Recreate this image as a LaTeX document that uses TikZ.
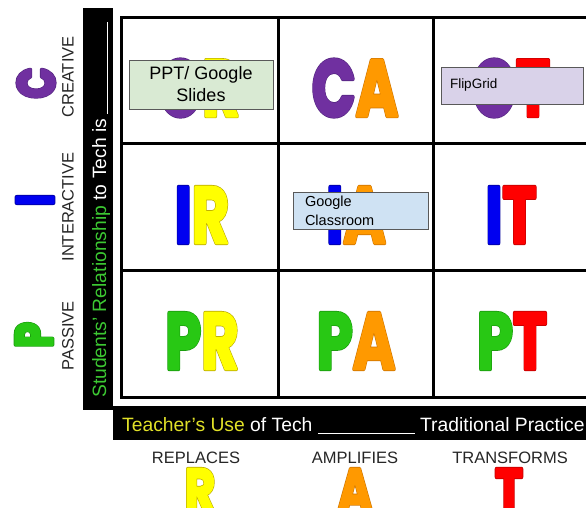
\documentclass[tikz,border=0pt]{standalone}
\usepackage{fontspec}
\setmainfont{Liberation Sans}
\newfontfamily\heavyfont{Poppins}
\definecolor{purC}{RGB}{112,48,160}
\definecolor{oraA}{RGB}{255,153,0}
\definecolor{yelR}{RGB}{255,255,0}
\definecolor{bluI}{RGB}{0,0,240}
\definecolor{redT}{RGB}{255,0,0}
\definecolor{grnP}{RGB}{40,200,20}
\definecolor{stuG}{RGB}{60,200,50}
\definecolor{teaY}{RGB}{225,225,40}
\definecolor{slideFill}{RGB}{217,234,211}
\definecolor{flipFill}{RGB}{217,210,233}
\definecolor{roomFill}{RGB}{207,226,243}
% heavy letter: dark rim under, filled letter with wide stroke on top
\newcommand\olet[3]{\makebox[0pt][l]{\color{#1}\special{pdf:literal direct 1 Tr 4 w 1 j #2 RG}#3\special{pdf:literal direct 0 Tr}}{\color{#1}\special{pdf:literal direct 2 Tr 2.6 w 1 j}#3\special{pdf:literal direct 0 Tr}}}
\tikzset{
  gridline/.style={line width=3pt},
  cellltr/.style={inner sep=0pt, font=\heavyfont\bfseries\fontsize{80}{80}\selectfont},
  sideltr/.style={inner sep=0pt, rotate=90, font=\heavyfont\bfseries\fontsize{52}{52}\selectfont},
  footltr/.style={inner sep=0pt, anchor=base, font=\heavyfont\bfseries\fontsize{60}{60}\selectfont},
  sidelab/.style={inner sep=0pt, rotate=90, text=black!85, font=\fontsize{16.5}{18}\selectfont},
  footlab/.style={inner sep=0pt, anchor=base, text=black!85, font=\fontsize{16.5}{18}\selectfont},
  barlab/.style={inner sep=0pt, text=white, font=\fontsize{19.3}{21}\selectfont},
  notebox/.style={draw=black!65, line width=0.8pt, inner ysep=0pt}
}
\def\purO{0.33 0.15 0.5}
\def\oraO{0.8 0.45 0}
\def\yelO{0.72 0.66 0}
\def\bluO{0 0 0.6}
\def\redO{0.75 0 0}
\def\grnO{0.1 0.6 0.05}

\begin{document}
\begin{tikzpicture}[x=1pt,y=-1pt]
\useasboundingbox (0,0) rectangle (586,507);
\fill [black] (83,8) rectangle (113,410);
\fill [black] (113,406) rectangle (592,440);
\draw [gridline] (121,17) rectangle (592,397);
\draw [gridline] (278,17) -- (278,397);
\draw [gridline] (433,17) -- (433,397);
\draw [gridline] (121,143) -- (592,143);
\draw [gridline] (121,270) -- (592,270);
\node [cellltr] (cr) at (199,88) {\scalebox{0.72}[1]{\olet{purC}{\purO}{C}\olet{yelR}{\yelO}{R}}};
\node [cellltr] (ca) at (355,88) {\scalebox{0.72}[1]{\olet{purC}{\purO}{C}\olet{oraA}{\oraO}{A}}};
\node [cellltr] (ct) at (511,88) {\scalebox{0.72}[1]{\olet{purC}{\purO}{C}\olet{redT}{\redO}{T}}};
\node [cellltr] (ir) at (202,215) {\scalebox{0.72}[1]{\olet{bluI}{\bluO}{I}\olet{yelR}{\yelO}{R}}};
\node [cellltr] (ia) at (356,215) {\scalebox{0.72}[1]{\olet{bluI}{\bluO}{I}\olet{oraA}{\oraO}{A}}};
\node [cellltr] (it) at (511,215) {\scalebox{0.72}[1]{\olet{bluI}{\bluO}{I}\olet{redT}{\redO}{T}}};
\node [cellltr] (pr) at (202,341) {\scalebox{0.72}[1]{\olet{grnP}{\grnO}{P}\olet{yelR}{\yelO}{R}}};
\node [cellltr] (pa) at (356,341) {\scalebox{0.72}[1]{\olet{grnP}{\grnO}{P}\olet{oraA}{\oraO}{A}}};
\node [cellltr] (pt) at (512,341) {\scalebox{0.72}[1]{\olet{grnP}{\grnO}{P}\olet{redT}{\redO}{T}}};
\node [notebox, fill=slideFill, minimum width=144pt, minimum height=49pt, align=center, font=\fontsize{18}{22}\selectfont] (slides) at (201,84.5) {PPT/ Google\\Slides};
\node [notebox, fill=flipFill, minimum height=37pt, inner xsep=9pt, text width=124pt, align=left, font=\fontsize{13.5}{15}\selectfont] (flip) at (512,85.5) {FlipGrid};
\node [notebox, fill=roomFill, minimum height=37pt, inner xsep=12pt, text width=111pt, align=left, font=\fontsize{14.5}{19}\selectfont] (room) at (360.5,210.5) {Google\\Classroom};
\node [sideltr] (cbig) at (36,83) {\scalebox{0.78}[1]{\olet{purC}{\purO}{C}}};
\node [sideltr] (ibig) at (35,200) {\scalebox{0.78}[1]{\olet{bluI}{\bluO}{I}}};
\node [sideltr] (pbig) at (34,335) {\scalebox{0.78}[1]{\olet{grnP}{\grnO}{P}}};
\node [sidelab] (creative) at (68,77) {CREATIVE};
\node [sidelab] (interactive) at (68,207) {INTERACTIVE};
\node [sidelab] (passive) at (68,336) {PASSIVE};
\node [barlab, rotate=90, anchor=base west] (students) at (106,398) {{\color{stuG}Students' Relationship} to Tech is \rule[-2pt]{92pt}{1pt}};
\node [barlab, anchor=base west] (teacher) at (122,431.5) {{\color{teaY}Teacher's Use} of Tech \rule[-2.5pt]{97pt}{1.2pt} Traditional Practice};
\node [footlab] (replaces) at (196,463) {REPLACES};
\node [footlab] (amplifies) at (355,463) {AMPLIFIES};
\node [footlab] (transforms) at (510,463) {TRANSFORMS};
\node [footltr] (rbig) at (200,511) {\scalebox{0.78}[1]{\olet{yelR}{\yelO}{R}}};
\node [footltr] (abig) at (355,511) {\scalebox{0.78}[1]{\olet{oraA}{\oraO}{A}}};
\node [footltr] (tbig) at (509,511) {\scalebox{0.78}[1]{\olet{redT}{\redO}{T}}};
\end{tikzpicture}
\end{document}
